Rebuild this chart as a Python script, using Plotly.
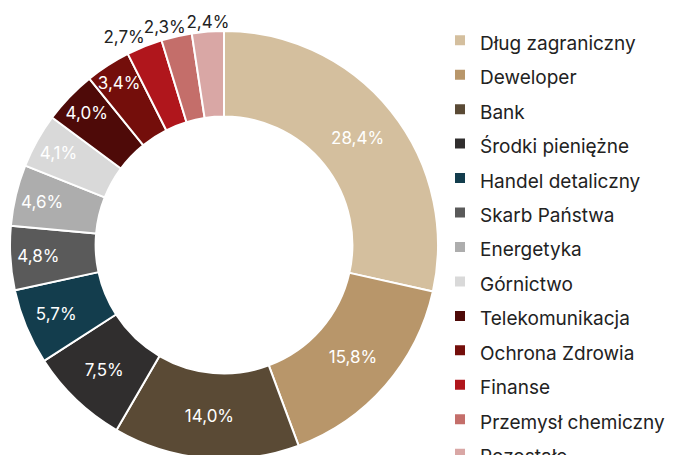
import plotly.graph_objects as go
import numpy as np

# udział w portfelu (%)
labels = ["Dług zagraniczny", "Deweloper", "Bank", "Środki pieniężne", "Handel detaliczny",
          "Skarb Państwa", "Energetyka", "Górnictwo", "Telekomunikacja", "Ochrona Zdrowia",
          "Finanse", "Przemysł chemiczny", "Pozostałe"]
values = [28.4, 15.8, 14.0, 7.5, 5.7, 4.8, 4.6, 4.1, 4.0, 3.4, 2.7, 2.3, 2.4]
colors = ["#D4BF9E", "#B8966A", "#5A4A35", "#302E2E", "#133D4D", "#5A5A5A", "#ADADAD",
          "#D9D9D9", "#4E0A08", "#740E0B", "#B0161C", "#C46E6A", "#D9A7A5"]

FONT = "Inter, sans-serif"
W, H = 675, 455

pct_text = [f"{v:.1f}%".replace(".", ",") for v in values]
small = np.array([v < 3 for v in values])
inside_text = ["" if s else t for s, t in zip(small, pct_text)]
legend_names = [f"<span style='font-size:19px'>{l}</span>" for l in labels]

# pozycja donuta w px papieru (od góry)
top = 23
r = 214
cx = 216
cy = top + r
dom_x = [(cx - r) / W, (cx + r) / W]
dom_y = [1 - (top + 2 * r) / H, 1 - top / H]

fig = go.Figure(go.Pie(
    labels=legend_names, values=values, text=inside_text, textinfo="text",
    hole=0.6, sort=False, direction="clockwise", rotation=0,
    marker=dict(colors=colors, line=dict(color="white", width=2)),
    textposition="inside", insidetextorientation="horizontal",
    textfont=dict(family=FONT, size=17, color="white"),
    domain=dict(x=dom_x, y=dom_y), hoverinfo="skip"
))

# etykiety małych wycinków nad pierścieniem, kąt = środek wycinka
vals = np.array(values)
mid = np.deg2rad((np.cumsum(vals) - vals / 2) / vals.sum() * 360)
out_text = list(np.array(pct_text)[small])
out_text[1] = out_text[1] + "\u00a0" * 5  # 2,3% lekko w lewo, między 2,7% a 2,4%
fig.add_trace(go.Scatter(
    x=0.995 * np.sin(mid[small]), y=0.995 * np.cos(mid[small]),
    text=out_text, mode="text",
    textposition=["top left", "top center", "top center"],
    textfont=dict(family=FONT, size=17, color="#222222"),
    cliponaxis=False, showlegend=False, hoverinfo="skip"
))

# osie kartezjańskie na całym papierze, 1 jednostka = promień donuta
fig.update_layout(
    width=W, height=H,
    margin=dict(l=0, r=0, t=0, b=0, autoexpand=False),
    paper_bgcolor="white", plot_bgcolor="rgba(0,0,0,0)",
    font=dict(family=FONT, color="#222222"),
    uniformtext=dict(mode="show", minsize=17),
    showlegend=True,
    xaxis=dict(domain=[0, 1], range=[-cx / r, (W - cx) / r], visible=False, fixedrange=True),
    yaxis=dict(domain=[0, 1], range=[-(H - cy) / r, cy / r], visible=False, fixedrange=True),
    legend=dict(x=432 / W, xanchor="left", y=1 - 10 / H, yanchor="top",
                font=dict(family=FONT, size=24.2, color="#222222"),
                bgcolor="rgba(0,0,0,0)", maxheight=800)
)

fig.write_html("out.html")
